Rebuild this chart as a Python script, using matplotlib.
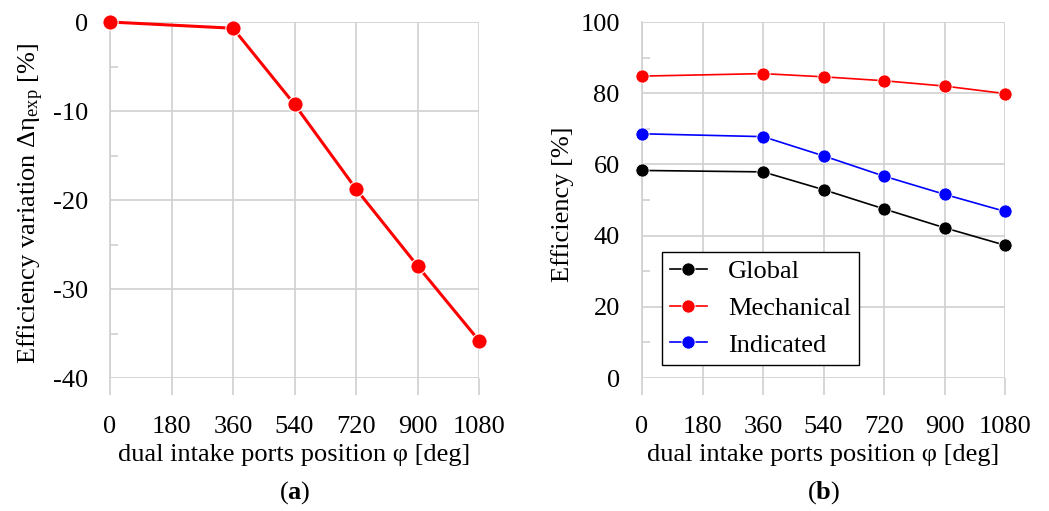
import matplotlib
matplotlib.use("Agg")
import matplotlib.pyplot as plt
from matplotlib.ticker import MultipleLocator

plt.rcParams["font.family"] = ["Liberation Serif", "DejaVu Serif"]
plt.rcParams["mathtext.fontset"] = "custom"
plt.rcParams["mathtext.rm"] = "Liberation Serif"
plt.rcParams["mathtext.it"] = "Liberation Serif:italic"
plt.rcParams["mathtext.bf"] = "Liberation Serif:bold"
plt.rcParams["axes.unicode_minus"] = False

# data
phi = [0, 360, 540, 720, 900, 1080]
delta_eta = [0.0, -0.7, -9.25, -18.75, -27.4, -35.8]

eta_global = [58.3, 57.9, 52.9, 47.5, 42.2, 37.3]
eta_mech = [84.8, 85.5, 84.6, 83.5, 82.0, 79.9]
eta_ind = [68.6, 67.8, 62.4, 56.7, 51.6, 46.8]

x_ticks = [0, 180, 360, 540, 720, 900, 1080]

FS = 19
GRID = "#d0d0d0"

fig = plt.figure(figsize=(10.49, 5.11), dpi=100)
ax1 = fig.add_axes([110 / 1049, 133 / 511, 369 / 1049, 356 / 511])
ax2 = fig.add_axes([642 / 1049, 133 / 511, 363 / 1049, 356 / 511])


def style(ax, ylo, yhi, major, minor):
    ax.set_xlim(0, 1080)
    ax.set_ylim(ylo, yhi)
    ax.set_xticks(x_ticks)
    ax.yaxis.set_major_locator(MultipleLocator(major))
    ax.yaxis.set_minor_locator(MultipleLocator(minor))
    ax.grid(True, which="major", color=GRID, linewidth=1.2)
    for s in ["top", "right", "bottom"]:
        ax.spines[s].set_visible(False)
    ax.spines["left"].set_color(GRID)
    ax.spines["left"].set_linewidth(1.2)
    ax.tick_params(axis="x", length=12, width=1.2, color=GRID, pad=15,
                   labelsize=FS, direction="out")
    ax.tick_params(axis="y", which="major", length=0, pad=16, labelsize=FS)
    ax.tick_params(axis="y", which="minor", length=6, width=1.2, color=GRID,
                   direction="in")
    ax.set_axisbelow(True)
    ax.set_xlabel("dual intake ports position φ [deg]", fontsize=FS, labelpad=5)


style(ax1, -40, 0, 10, 5)
ax1.plot(phi, delta_eta, color="red", lw=2.2, marker="o", ms=11,
         markeredgecolor="white", markeredgewidth=0.8, clip_on=False, zorder=3)
ax1.set_ylabel("Efficiency variation Δη$_{\\mathrm{exp}}$ [%]", fontsize=FS)
ax1.yaxis.set_label_coords(-0.173, 0.489)

style(ax2, 0, 100, 20, 10)
ax2.plot(phi, eta_global, color="black", lw=1.2, marker="o", ms=9.5,
         markeredgecolor="white", markeredgewidth=0.6, clip_on=False, zorder=3,
         label="Global")
ax2.plot(phi, eta_mech, color="red", lw=1.2, marker="o", ms=9.5,
         markeredgecolor="white", markeredgewidth=0.6, clip_on=False, zorder=3,
         label="Mechanical")
ax2.plot(phi, eta_ind, color="blue", lw=1.2, marker="o", ms=9.5,
         markeredgecolor="white", markeredgewidth=0.6, clip_on=False, zorder=3,
         label="Indicated")
ax2.set_ylabel("Efficiency [%]", fontsize=FS)
ax2.yaxis.set_label_coords(-0.187, 0.489)
leg = ax2.legend(loc="upper left", bbox_to_anchor=(662 / 1049, 1 - 252 / 511),
                 bbox_transform=fig.transFigure, borderaxespad=0, fontsize=FS,
                 fancybox=False, framealpha=1, edgecolor="black",
                 handlelength=1.4, handletextpad=0.8, borderpad=0.3,
                 labelspacing=0.5)
leg.get_frame().set_linewidth(1.0)

fig.text(295 / 1049, 1 - 493 / 511, "($\\mathbf{a}$)", ha="center", va="center", fontsize=FS)
fig.text(824 / 1049, 1 - 493 / 511, "($\\mathbf{b}$)", ha="center", va="center", fontsize=FS)

fig.savefig("out.png", dpi=100)
